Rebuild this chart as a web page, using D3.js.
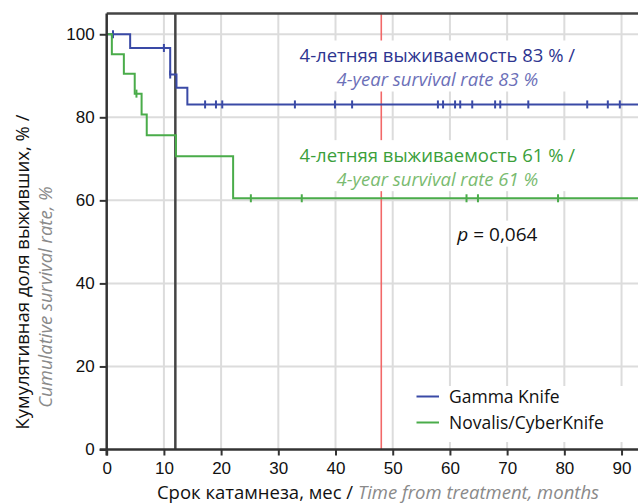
<!DOCTYPE html>
<html lang="ru">
<head>
<meta charset="utf-8">
<title>Kaplan-Meier</title>
<script src="https://cdn.jsdelivr.net/npm/d3@7"></script>
<style>
  body { margin: 0; background: #fff; }
  svg { font-family: "Open Sans", sans-serif; }
  .tick text { font-size: 17px; fill: #111; }
</style>
</head>
<body>
<script>
// данные
const xTicks = [0, 10, 20, 30, 40, 50, 60, 70, 80, 90];
const yTicks = [0, 20, 40, 60, 80, 100];
const refLines = [12, 48];

// Gamma Knife
const gkTimes = [0, 4.1, 11.1, 12.2, 14.1];
const gkSurv = [100, 96.7, 90.3, 87.1, 83.1];
const gkCensored = [1.1, 10.0, 11.1, 17.2, 19.1, 20.2, 32.9, 39.9, 42.9, 57.9, 58.8,
  60.9, 61.8, 63.9, 67.9, 68.8, 73.7, 84.0, 87.6, 89.7];

// Novalis/CyberKnife
const nvTimes = [0, 0.9, 3.0, 4.9, 6.1, 7.0, 12.1, 22.1];
const nvSurv = [100, 95.2, 90.5, 85.7, 80.7, 75.7, 70.6, 60.5];
const nvCensored = [5.2, 25.2, 34.1, 62.9, 64.9, 78.9];

const series = [
  { name: "Gamma Knife", times: gkTimes, surv: gkSurv, cens: gkCensored, color: "#3a4aa6" },
  { name: "Novalis/CyberKnife", times: nvTimes, surv: nvSurv, cens: nvCensored, color: "#4aac4a" }
];

const w = 638, h = 504;
const xMax = 93, yMax = 105;

const svg = d3.select("body").append("svg")
  .attr("width", w).attr("height", h);

const x = d3.scaleLinear().domain([0, xMax]).range([106.7, 638.7]);
const y = d3.scaleLinear().domain([0, yMax]).range([449.5, 13.5]);

// сетка
svg.append("g").selectAll("line").data(xTicks.filter(d => d > 0)).join("line")
  .attr("x1", d => x(d)).attr("x2", d => x(d))
  .attr("y1", y(yMax)).attr("y2", y(0))
  .attr("stroke", "#dcdcdc").attr("stroke-width", 2);
svg.append("g").selectAll("line").data(yTicks.filter(d => d > 0)).join("line")
  .attr("x1", x(0)).attr("x2", w)
  .attr("y1", d => y(d)).attr("y2", d => y(d))
  .attr("stroke", "#dcdcdc").attr("stroke-width", 2);

// подписи (белые подложки)
const notes = [
  { ru: "4-летняя выживаемость 83 % /", en: "4-year survival rate 83  %", t: 57.8, v: 93.2,
    c1: "#2d3590", c2: "#6c70b8" },
  { ru: "4-летняя выживаемость 61 % /", en: "4-year survival rate 61  %", t: 57.8, v: 69.2,
    c1: "#3b9f3b", c2: "#7abb70" }
];

const noteG = svg.append("g");
notes.forEach(n => {
  const g = noteG.append("g");
  const t1 = g.append("text")
    .attr("x", x(n.t)).attr("y", y(n.v))
    .attr("text-anchor", "middle").attr("font-size", 18.5)
    .attr("fill", n.c1).text(n.ru);
  const t2 = g.append("text")
    .attr("x", x(n.t)).attr("y", y(n.v) + 24)
    .attr("text-anchor", "middle").attr("font-size", 18.5)
    .attr("font-style", "italic")
    .attr("fill", n.c2).text(n.en);
  const b1 = t1.node().getBBox(), b2 = t2.node().getBBox();
  const x0 = Math.min(b1.x, b2.x) - 4, x1 = Math.max(b1.x + b1.width, b2.x + b2.width) + 4;
  g.insert("rect", "text")
    .attr("x", x0).attr("y", b1.y - 2)
    .attr("width", x1 - x0).attr("height", b2.y + b2.height - b1.y + 2)
    .attr("fill", "#fff");
});

// p-value
const pG = svg.append("g");
const pText = pG.append("text")
  .attr("x", x(61.3)).attr("y", y(50.3))
  .attr("font-size", 19).attr("fill", "#111");
pText.append("tspan").attr("font-style", "italic").text("p");
pText.append("tspan").text(" = 0,064");
const pb = pText.node().getBBox();
pG.insert("rect", "text").attr("x", pb.x - 3).attr("y", pb.y)
  .attr("width", pb.width + 6).attr("height", pb.height).attr("fill", "#fff");

// вертикальные линии 12 и 48 мес
svg.append("line")
  .attr("x1", x(refLines[0])).attr("x2", x(refLines[0]))
  .attr("y1", y(yMax)).attr("y2", y(0))
  .attr("stroke", "#444").attr("stroke-width", 2.5);
svg.append("line")
  .attr("x1", x(refLines[1])).attr("x2", x(refLines[1]))
  .attr("y1", y(yMax)).attr("y2", y(0))
  .attr("stroke", "#f26868").attr("stroke-width", 1.6);

noteG.raise();

// кривые выживаемости
const line = d3.line().curve(d3.curveStepAfter)
  .x(d => x(d[0])).y(d => y(d[1]));

series.forEach(s => {
  const pts = s.times.map((t, i) => [t, s.surv[i]]);
  pts.push([xMax, s.surv[s.surv.length - 1]]);
  svg.append("path").datum(pts)
    .attr("d", line)
    .attr("fill", "none").attr("stroke", s.color).attr("stroke-width", 2);
  const survAt = t => s.surv[d3.bisectRight(s.times, t) - 1];
  const g = svg.append("g").attr("stroke", s.color).attr("stroke-width", 2);
  g.selectAll("line").data(s.cens).join("line")
    .attr("x1", d => x(d)).attr("x2", d => x(d))
    .attr("y1", d => y(survAt(d)) - 4).attr("y2", d => y(survAt(d)) + 4);
});

// рамка сверху
svg.append("line")
  .attr("x1", x(0)).attr("x2", w)
  .attr("y1", y(yMax)).attr("y2", y(yMax))
  .attr("stroke", "#444").attr("stroke-width", 2.5);

// оси
const xAxis = svg.append("g")
  .attr("transform", `translate(0,${y(0)})`)
  .call(d3.axisBottom(x).tickValues(xTicks).tickSize(6).tickSizeOuter(0).tickPadding(6));
xAxis.select(".domain").attr("d", `M${x(0) - 7},0H${w}`);
const yAxis = svg.append("g")
  .attr("transform", `translate(${x(0)},0)`)
  .call(d3.axisLeft(y).tickValues(yTicks).tickSize(7).tickSizeOuter(0).tickPadding(5));
yAxis.select(".domain").attr("d", `M0,${y(yMax)}V${y(0) + 6}`);
svg.selectAll(".domain").attr("stroke", "#333").attr("stroke-width", 2.5);
svg.selectAll(".tick line").attr("stroke", "#333").attr("stroke-width", 2);

// легенда
const lg = svg.append("g");
lg.append("rect").attr("x", 410).attr("y", 386).attr("width", w - 410).attr("height", 56)
  .attr("fill", "#fff");
series.forEach((s, i) => {
  const yy = 396.5 + i * 26;
  lg.append("line").attr("x1", 416.5).attr("x2", 439).attr("y1", yy).attr("y2", yy)
    .attr("stroke", s.color).attr("stroke-width", 2);
  lg.append("text").attr("x", 449).attr("y", yy + 6)
    .attr("font-size", 17.5).attr("fill", "#111").text(s.name);
});

// названия осей
const xt = svg.append("text")
  .attr("x", 378).attr("y", 499)
  .attr("text-anchor", "middle").attr("font-size", 18.5);
xt.append("tspan").attr("fill", "#111").text("Срок катамнеза, мес / ");
xt.append("tspan").attr("fill", "#8a8a8a").attr("font-style", "italic")
  .text("Time from treatment, months");

svg.append("text")
  .attr("transform", `translate(29,${272}) rotate(-90)`)
  .attr("text-anchor", "middle").attr("font-size", 18.5).attr("fill", "#111")
  .text("Кумулятивная доля выживших, % /");
svg.append("text")
  .attr("transform", `translate(52,${297}) rotate(-90)`)
  .attr("text-anchor", "middle").attr("font-size", 18.5).attr("fill", "#8a8a8a")
  .attr("font-style", "italic")
  .text("Cumulative survival rate,  %");
</script>
</body>
</html>
